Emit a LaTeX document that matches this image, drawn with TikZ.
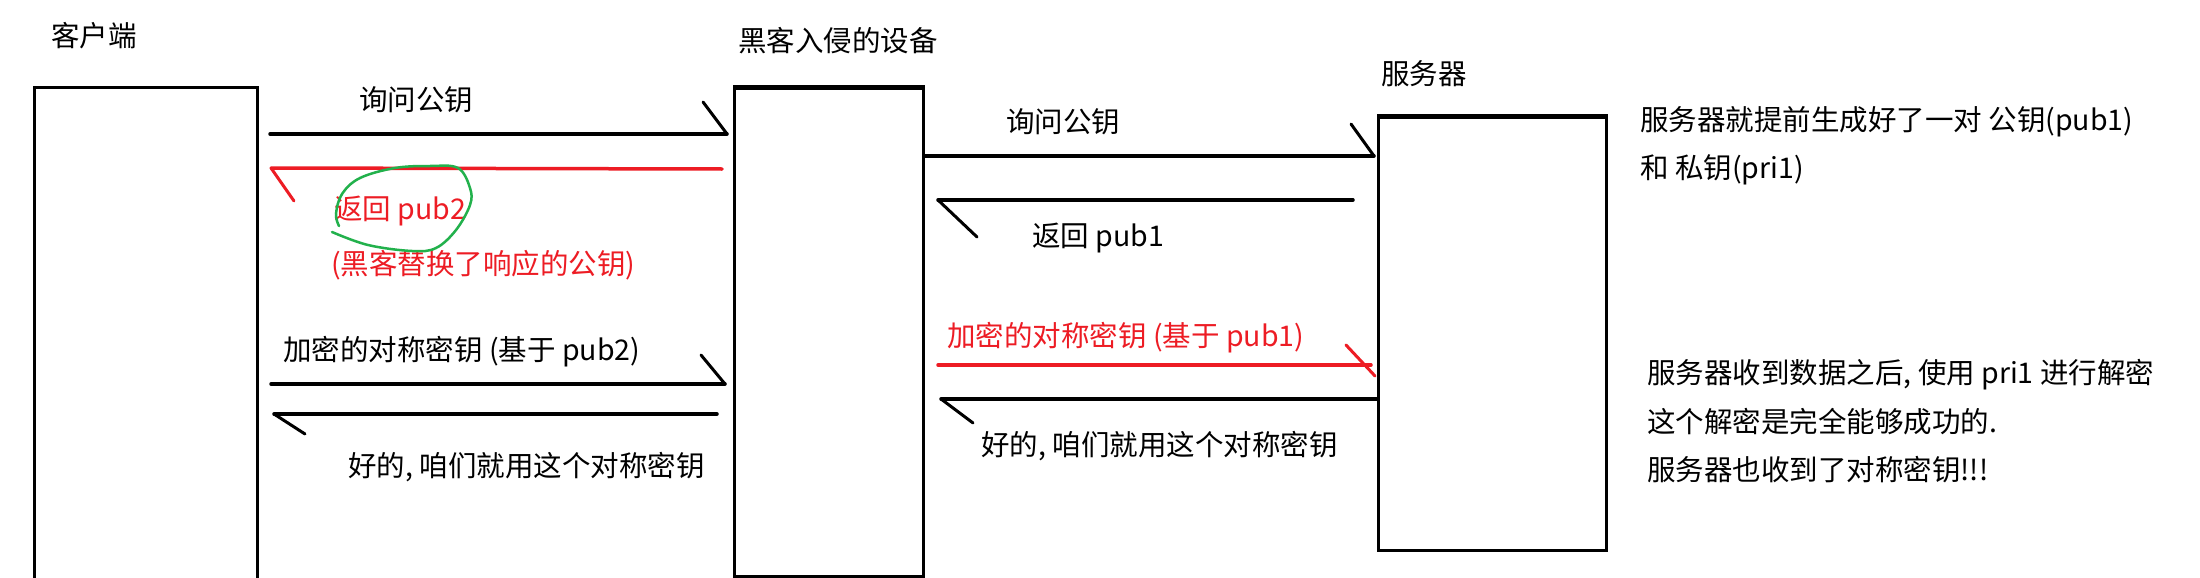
\documentclass[tikz,border=0pt]{standalone}
\usepackage{fontspec}
\setmainfont{Noto Sans CJK SC}
\definecolor{myred}{HTML}{ED1C24}
\definecolor{mygreen}{HTML}{22B14C}
\begin{document}
\begin{tikzpicture}[x=1pt,y=-1pt,
  lbl/.style={font=\fontsize{28.5}{32}\selectfont, inner sep=0pt, anchor=west},
  box/.style={draw, line width=3pt, inner sep=0pt, anchor=north west},
  msg/.style={line width=3.5pt, line cap=round, line join=round},
  barb/.style={line width=3pt, line cap=round}]
\useasboundingbox[fill=white] (0,0) rectangle (2200,578);

% boxes
\coordinate (cbl) at (34,580);
\coordinate (ctl) at (34,87);
\coordinate (ctr) at (257,87);
\coordinate (cbr) at (257,580);
\draw[line width=3pt] (cbl) -- (ctl) -- (ctr) -- (cbr);
\node[box, minimum width=189pt, minimum height=488pt] (hack) at (733,87) {};
\node[box, minimum width=228pt, minimum height=433pt] (serv) at (1377,116) {};
\draw[line width=4.5pt] (hack.north west) -- (hack.north east);
\draw[line width=4.5pt] (serv.north west) -- (serv.north east);

% titles
\node[lbl] (tc) at (51,36) {客户端};
\node[lbl] (th) at (738,41) {黑客入侵的设备};
\node[lbl] (ts) at (1381,74) {服务器};

% message 1: client -> hacker
\coordinate (m1a) at (270,134); \coordinate (m1b) at (727,134); \coordinate (m1c) at (703,102);
\draw[msg] (m1a) -- (m1b);
\draw[barb] (m1c) -- (m1b);
\node[lbl] (l1) at (359,100) {询问公钥};

% message 2: hacker -> client (red)
\coordinate (m2a) at (722,169); \coordinate (m2b) at (271,168); \coordinate (m2c) at (294,201);
\draw[msg, myred] (m2a) -- (m2b);
\draw[barb, myred] (m2b) -- (m2c);
\node[lbl, text=myred] (l2) at (334,211) {返回 pub2};
\node[lbl, text=myred] (l2b) at (331,265) {(黑客替换了响应的公钥)};
\draw[mygreen, line width=2.5pt, line cap=round] plot[smooth, tension=0.6] coordinates
  {(332,232) (368,245) (412,251) (436,248) (456,230) (470,205) (470,188) (458,168) (430,166) (395,168) (360,178) (342,194) (336,214) (339,226)};

% message 3: client -> hacker
\coordinate (m3a) at (271,384); \coordinate (m3b) at (725,384); \coordinate (m3c) at (701,355);
\draw[msg] (m3a) -- (m3b);
\draw[barb] (m3c) -- (m3b);
\node[lbl] (l3) at (283,352) {加密的对称密钥 (基于 pub2)};

% message 4: hacker -> client
\coordinate (m4a) at (717,414); \coordinate (m4b) at (274,414); \coordinate (m4c) at (305,434);
\draw[msg] (m4a) -- (m4b);
\draw[barb] (m4b) -- (m4c);
\node[lbl] (l4) at (348,467) {好的, 咱们就用这个对称密钥};

% message 5: hacker -> server
\coordinate (m5a) at (hack.north east |- 0,156); \coordinate (m5b) at (1374,156); \coordinate (m5c) at (1351,124);
\draw[msg] (m5a) -- (m5b);
\draw[barb] (m5c) -- (m5b);
\node[lbl] (l5) at (1006,122) {询问公钥};

% message 6: server -> hacker
\coordinate (m6a) at (1353,200); \coordinate (m6b) at (938,200); \coordinate (m6c) at (977,237);
\draw[msg] (m6a) -- (m6b);
\draw[barb] (m6b) -- (m6c);
\node[lbl] (l6) at (1032,238) {返回 pub1};

% message 7: hacker -> server (red)
\coordinate (m7a) at (938,365); \coordinate (m7b) at (1371,365); \coordinate (m7c) at (1346,345); \coordinate (m7d) at (1375,376);
\draw[msg, myred] (m7a) -- (m7b);
\draw[barb, myred] (m7c) -- (m7d);
\node[lbl, text=myred] (l7) at (947,338) {加密的对称密钥 (基于 pub1)};

% message 8: server -> hacker
\coordinate (m8a) at (serv.west |- 0,399); \coordinate (m8b) at (941,399); \coordinate (m8c) at (973,423);
\draw[msg] (m8a) -- (m8b);
\draw[barb] (m8b) -- (m8c);
\node[lbl] (l8) at (981,446) {好的, 咱们就用这个对称密钥};

% server notes
\node[lbl] (n1) at (1640,122) {服务器就提前生成好了一对 公钥(pub1)};
\node[lbl] (n2) at (1640,170) {和 私钥(pri1)};
\node[lbl] (n3) at (1647,375) {服务器收到数据之后, 使用 pri1 进行解密};
\node[lbl] (n4) at (1647,422) {这个解密是完全能够成功的.};
\node[lbl] (n5) at (1647,470) {服务器也收到了对称密钥!!!};
\end{tikzpicture}
\end{document}
